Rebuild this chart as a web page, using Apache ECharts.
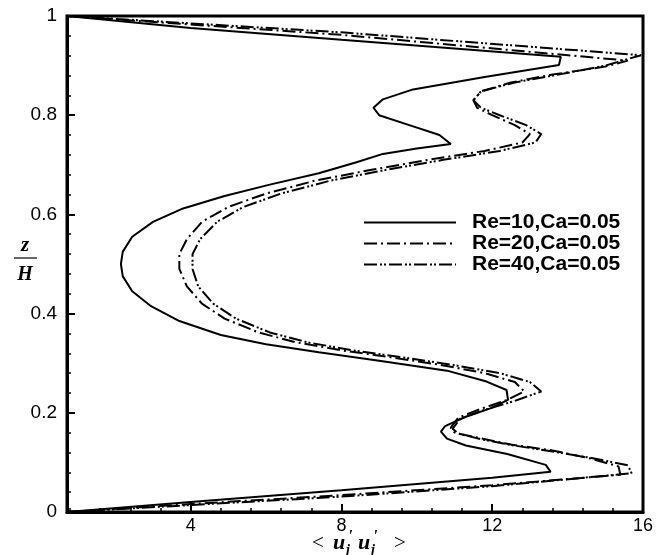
<!DOCTYPE html>
<html>
<head>
<meta charset="utf-8">
<script src="https://cdn.jsdelivr.net/npm/echarts@6.0.0/dist/echarts.min.js"></script>
<style>
	html, body { margin: 0; padding: 0; background: #fff; }
	#chart { width: 664px; height: 555px; }
</style>
</head>
<body>
<div id="chart"></div>
<script>
	var seriesNames = ['Re=10,Ca=0.05', 'Re=20,Ca=0.05', 'Re=40,Ca=0.05'];

	// <u'u'> values and z/H positions
	var re10X = [0.72, 4, 8, 12, 13.55, 13.42, 12.4, 11.3, 10.8, 10.64, 10.75, 11.3, 11.95, 12.42, 12.38, 11.85, 10.8, 9.0, 7.4, 6.0, 4.8, 3.7, 2.95, 2.45, 2.2, 2.15, 2.2, 2.45, 3.0, 3.8, 4.9, 6.1, 7.4, 8.4, 9.1, 10.0, 10.9, 10.6, 9.8, 9.0, 8.85, 9.1, 9.9, 11.8, 13.77, 13.82, 8, 4, 0.72];
	var re10Z = [0, 0.02, 0.044, 0.069, 0.081, 0.095, 0.117, 0.134, 0.148, 0.162, 0.173, 0.192, 0.209, 0.226, 0.246, 0.263, 0.285, 0.305, 0.322, 0.338, 0.357, 0.385, 0.415, 0.445, 0.475, 0.5, 0.525, 0.555, 0.585, 0.612, 0.637, 0.66, 0.683, 0.705, 0.722, 0.733, 0.742, 0.76, 0.78, 0.8, 0.815, 0.832, 0.852, 0.877, 0.901, 0.918, 0.952, 0.976, 1];

	var re20X = [0.72, 4, 8, 12, 15.4, 15.35, 14.6, 13.6, 12.5, 11.66, 11.0, 10.9, 11.1, 11.7, 12.4, 12.85, 12.6, 11.8, 10.6, 9.3, 8.0, 6.8, 5.8, 4.9, 4.3, 3.9, 3.7, 3.7, 3.9, 4.3, 5.0, 6.0, 7.3, 8.8, 10.3, 11.8, 12.8, 13.0, 12.6, 12.0, 11.6, 11.5, 11.7, 12.5, 13.6, 15.0, 15.6, 8, 0.72];
	var re20Z = [0, 0.016, 0.034, 0.054, 0.075, 0.092, 0.108, 0.124, 0.136, 0.149, 0.16, 0.17, 0.19, 0.208, 0.226, 0.243, 0.262, 0.28, 0.297, 0.312, 0.326, 0.342, 0.362, 0.39, 0.42, 0.455, 0.49, 0.52, 0.55, 0.585, 0.615, 0.642, 0.668, 0.69, 0.71, 0.728, 0.745, 0.762, 0.78, 0.8, 0.815, 0.83, 0.848, 0.866, 0.882, 0.898, 0.91, 0.962, 1];

	var re40X = [0.72, 4, 8, 12, 15.7, 15.6, 14.7, 13.6, 12.5, 11.7, 11.1, 10.95, 11.15, 11.8, 12.6, 13.3, 13.0, 12.2, 11.0, 9.6, 8.3, 7.1, 6.1, 5.2, 4.6, 4.2, 4.05, 4.05, 4.25, 4.7, 5.4, 6.4, 7.7, 9.2, 10.7, 12.2, 13.15, 13.3, 12.9, 12.2, 11.7, 11.5, 11.7, 12.6, 13.9, 15.0, 15.95, 8, 0.72];
	var re40Z = [0, 0.014, 0.031, 0.052, 0.078, 0.094, 0.108, 0.122, 0.135, 0.147, 0.158, 0.168, 0.188, 0.206, 0.224, 0.243, 0.262, 0.28, 0.296, 0.312, 0.326, 0.342, 0.362, 0.39, 0.42, 0.455, 0.49, 0.52, 0.55, 0.585, 0.615, 0.642, 0.668, 0.69, 0.71, 0.728, 0.745, 0.762, 0.78, 0.8, 0.815, 0.83, 0.848, 0.866, 0.884, 0.9, 0.921, 0.967, 1];

	var xMajorTicks = [4, 8, 12, 16];
	var xMinorTicks = [0.8, 1.6, 2.4, 3.2, 4.8, 5.6, 6.4, 7.2, 8.8, 9.6, 10.4, 11.2, 12.8, 13.6, 14.4, 15.2];
	var xMin = 0.72, xMax = 16;

	function pairs(xs, zs) {
		var out = [];
		for (var i = 0; i < xs.length; i++) {
			out.push([xs[i], zs[i]]);
		}
		return out;
	}

	function profileSeries(name, xs, zs, dash) {
		return {
			name: name,
			type: 'line',
			xAxisIndex: 0,
			yAxisIndex: 0,
			symbol: 'none',
			showSymbol: false,
			animation: false,
			lineStyle: { color: '#000', width: 2, type: dash, cap: 'butt' },
			itemStyle: { color: '#000' },
			data: pairs(xs, zs)
		};
	}

	function chart() {
		var myChart = echarts.init(document.getElementById('chart'));
		var sans = 'Arial, "Liberation Sans", sans-serif';
		var serif = '"Times New Roman", "Liberation Serif", "DejaVu Serif", serif';
		var option = {
			animation: false,
			grid: {
				left: 67, top: 16, right: 21, bottom: 43,
				show: true, borderColor: '#000', borderWidth: 3,
				backgroundColor: 'transparent'
			},
			legend: {
				orient: 'vertical',
				left: 363,
				top: 212,
				padding: 0,
				itemWidth: 92,
				itemHeight: 14,
				itemGap: 0,
				itemStyle: { color: 'rgba(0,0,0,0)', borderWidth: 0, opacity: 0 },
				textStyle: {
					color: '#000', fontFamily: sans,
					fontWeight: 'bold', fontSize: 21, padding: [0, 0, 0, 11]
				},
				data: seriesNames
			},
			xAxis: [{
				type: 'value',
				min: xMin,
				max: xMax,
				position: 'bottom',
				axisLine: { lineStyle: { color: '#000', width: 3 } },
				axisTick: { inside: true, length: 8, customValues: xMajorTicks, lineStyle: { color: '#000', width: 2 } },
				axisLabel: { customValues: xMajorTicks, margin: 5, color: '#000', fontFamily: sans, fontSize: 18 },
				splitLine: { show: false }
			}, {
				type: 'value',
				min: xMin,
				max: xMax,
				position: 'bottom',
				axisLine: { show: false },
				axisTick: { inside: true, length: 4, customValues: xMinorTicks, lineStyle: { color: '#000', width: 1.5 } },
				axisLabel: { show: false },
				splitLine: { show: false }
			}],
			yAxis: {
				type: 'value',
				min: 0,
				max: 1,
				interval: 0.2,
				axisLine: { lineStyle: { color: '#000', width: 3 } },
				axisTick: { inside: true, length: 8, lineStyle: { color: '#000', width: 2 } },
				minorTick: { show: true, splitNumber: 5, length: 4, lineStyle: { color: '#000', width: 1.5 } },
				axisLabel: { margin: 10, color: '#000', fontFamily: sans, fontSize: 19 },
				splitLine: { show: false }
			},
			graphic: [
				// y title: z over H
				{ type: 'text', x: 25, y: 246, style: { text: 'z', font: 'italic bold 21px ' + serif, fill: '#000', align: 'center', verticalAlign: 'middle' } },
				{ type: 'line', shape: { x1: 14, y1: 258, x2: 37, y2: 258 }, style: { stroke: '#000', lineWidth: 1.2 } },
				{ type: 'text', x: 25, y: 275, style: { text: 'H', font: 'italic bold 20px ' + serif, fill: '#000', align: 'center', verticalAlign: 'middle' } },
				// x title: < u'_j u'_j >
				{ type: 'text', x: 318, y: 543, style: { text: '<', font: '21px ' + serif, fill: '#000', align: 'center', verticalAlign: 'middle' } },
				{ type: 'text', x: 339, y: 543, style: { text: 'u', font: 'italic bold 22px ' + serif, fill: '#000', align: 'center', verticalAlign: 'middle' } },
				{ type: 'text', x: 350, y: 537, style: { text: "'", font: 'italic bold 17px ' + serif, fill: '#000', align: 'center', verticalAlign: 'middle' } },
				{ type: 'text', x: 348, y: 550, style: { text: 'j', font: 'italic bold 14px ' + serif, fill: '#000', align: 'center', verticalAlign: 'middle' } },
				{ type: 'text', x: 364, y: 543, style: { text: 'u', font: 'italic bold 22px ' + serif, fill: '#000', align: 'center', verticalAlign: 'middle' } },
				{ type: 'text', x: 375, y: 537, style: { text: "'", font: 'italic bold 17px ' + serif, fill: '#000', align: 'center', verticalAlign: 'middle' } },
				{ type: 'text', x: 373, y: 550, style: { text: 'j', font: 'italic bold 14px ' + serif, fill: '#000', align: 'center', verticalAlign: 'middle' } },
				{ type: 'text', x: 400, y: 543, style: { text: '>', font: '21px ' + serif, fill: '#000', align: 'center', verticalAlign: 'middle' } }
			],
			series: [
				profileSeries(seriesNames[0], re10X, re10Z, 'solid'),
				profileSeries(seriesNames[1], re20X, re20Z, [13, 4, 2, 4]),
				profileSeries(seriesNames[2], re40X, re40Z, [13, 3, 2, 2, 2, 3])
			]
		};
		myChart.setOption(option);
	}
	chart();
</script>
</body>
</html>
